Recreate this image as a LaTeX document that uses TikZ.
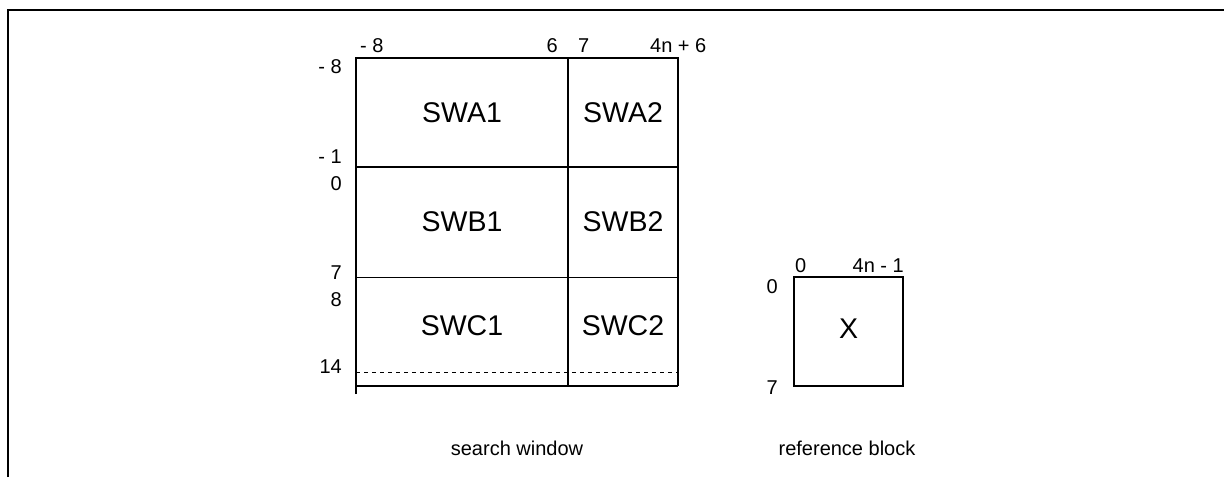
\documentclass[tikz,border=0pt]{standalone}
\usepackage{fontspec}
\setmainfont{Liberation Sans}
\begin{document}
\begin{tikzpicture}[x=1pt, y=-1pt,
    idx/.style={font=\fontsize{20}{24}\selectfont, inner sep=0pt},
    cell/.style={font=\fontsize{28.5}{34}\selectfont, inner sep=0pt},
    box/.style={line width=1.5pt}]
    \useasboundingbox (0,0) rectangle (1224,477);

    % Draw the outer frame
    \draw[line width=2pt] (8,477) -- (8,9.5) -- (1224,9.5);

    % Draw the search window
    \draw[box] (356,394) -- (356,58) -- (678,58) -- (678,386);
    \draw[line width=2pt] (356,386) -- (678,386);
    \draw[box] (568,58) -- (568,386);
    \draw[box] (356,167) -- (678,167);
    \draw[line width=1pt] (356,277) -- (678,277);
    \draw[line width=0.8pt, dash pattern=on 4pt off 4pt] (356,372) -- (678,372);

    % Labels for the sub-windows
    \node[cell] (swa1) at (462,113) {SWA1};
    \node[cell] (swa2) at (623,113) {SWA2};
    \node[cell] (swb1) at (462,222) {SWB1};
    \node[cell] (swb2) at (623,222) {SWB2};
    \node[cell] (swc1) at (462,326) {SWC1};
    \node[cell] (swc2) at (623,326) {SWC2};

    % Column indices of the search window
    \node[idx, anchor=base west] (colA) at (360,52) {- 8};
    \node[idx, anchor=base east] (colB) at (558,52) {6};
    \node[idx, anchor=base west] (colC) at (578,52) {7};
    \node[idx, anchor=base west] (colD) at (650,52) {4n + 6};

    % Row indices of the search window
    \node[idx, anchor=base east] (rowA) at (342,73) {- 8};
    \node[idx, anchor=base east] (rowB) at (342,163) {- 1};
    \node[idx, anchor=base east] (rowC) at (342,190) {0};
    \node[idx, anchor=base east] (rowD) at (342,279) {7};
    \node[idx, anchor=base east] (rowE) at (342,306) {8};
    \node[idx, anchor=base east] (rowF) at (342,373) {14};

    % Draw the reference block
    \draw[box] (794,277) rectangle (903,386);
    \node[cell] (refx) at (848.5,329) {X};
    \node[idx, anchor=base west] (refcolA) at (795,272) {0};
    \node[idx, anchor=base east] (refcolB) at (904,272) {4n - 1};
    \node[idx, anchor=base east] (refrowA) at (778,293) {0};
    \node[idx, anchor=base east] (refrowB) at (778,394) {7};

    % Captions
    \node[idx, anchor=base] (capsw) at (517,455) {search window};
    \node[idx, anchor=base] (capref) at (847,455) {reference block};
\end{tikzpicture}
\end{document}
